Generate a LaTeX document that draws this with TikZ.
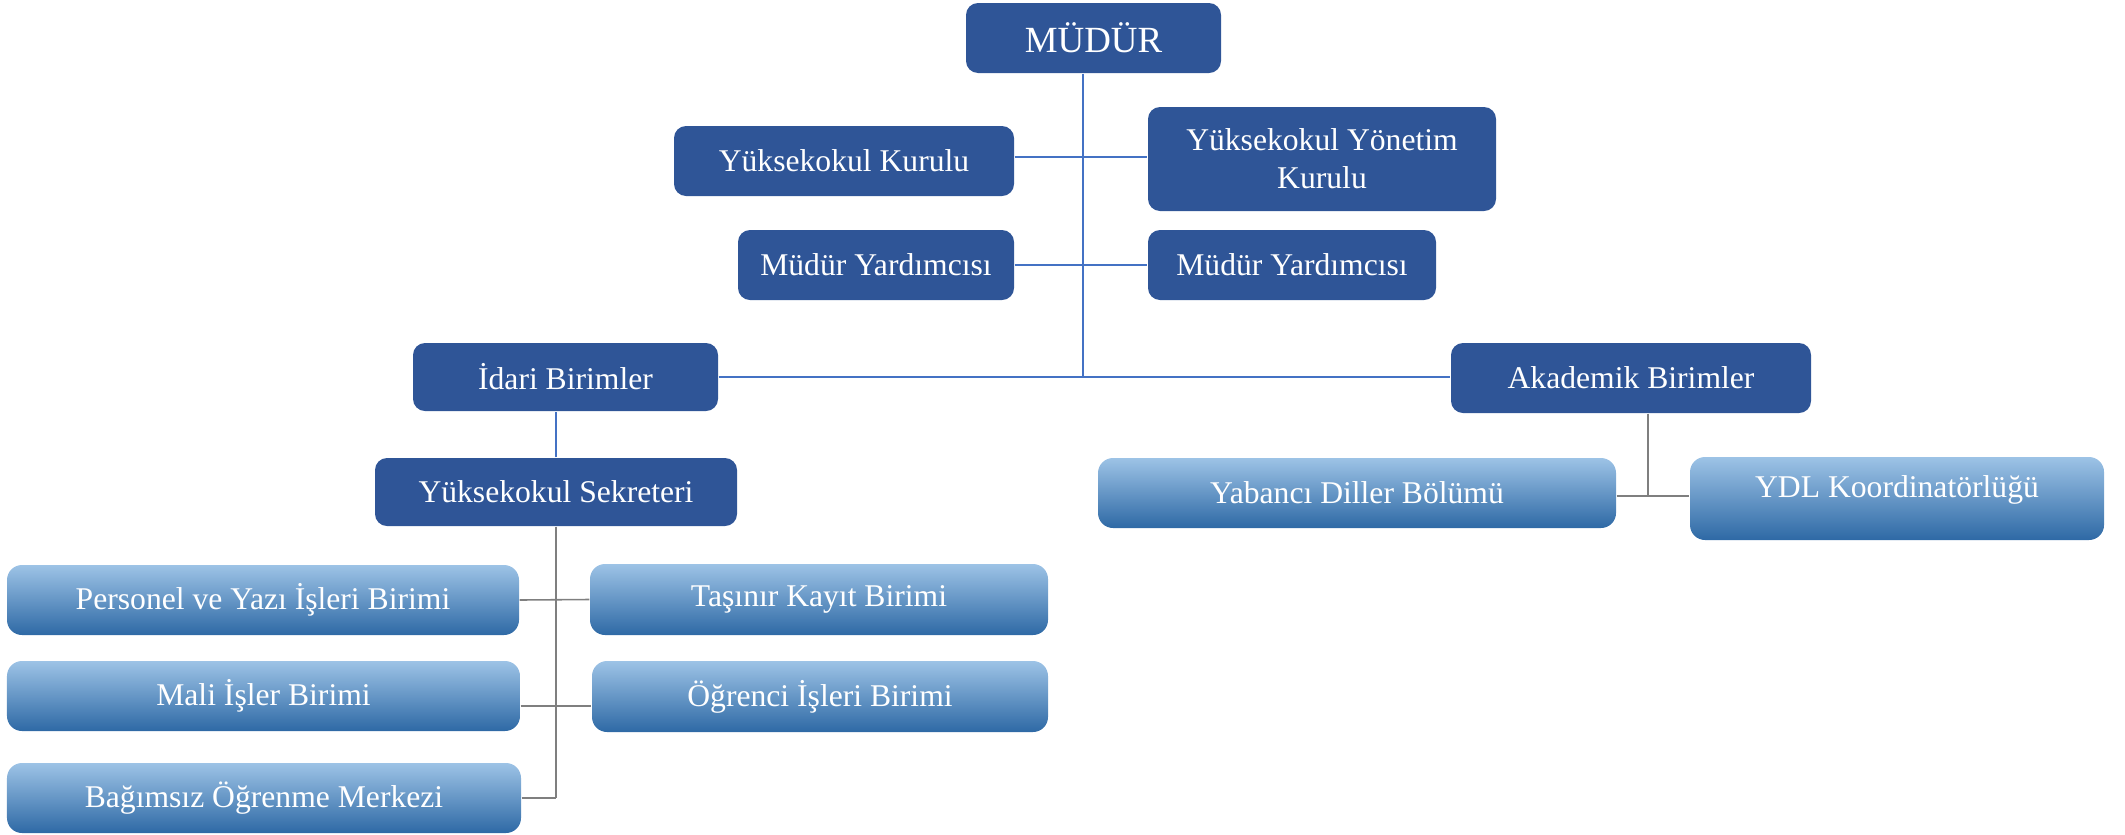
\documentclass[tikz,border=0pt]{standalone}
\usepackage{fontspec}
\setmainfont{Liberation Serif}
\usepackage{tikz}

\definecolor{darkfill}{HTML}{2F5597}
\definecolor{boxtop}{HTML}{9DC3E6}
\definecolor{boxmid}{HTML}{5B9BD5}
\definecolor{boxbot}{HTML}{2E69A5}
\definecolor{linkblue}{HTML}{4472C4}
\definecolor{linkgray}{HTML}{7F7F7F}

\begin{document}
\begin{tikzpicture}[
    darkbox/.style={rounded corners=0.12cm, fill=darkfill, text=white, inner sep=0pt,
        font=\fontsize{9}{10.8}\selectfont, align=center},
    lightbox/.style={rounded corners=0.15cm, top color=boxtop, middle color=boxmid,
        bottom color=boxbot, text=white, inner sep=0pt,
        font=\fontsize{9}{10.8}\selectfont, align=center},
    upline/.style={draw=linkblue, line width=0.45pt},
    downline/.style={draw=linkgray, line width=0.45pt}]
\useasboundingbox (0,0) rectangle (21.25,-8.34);

% Management
\node[darkbox, minimum width=2.55cm, minimum height=0.70cm, font=\fontsize{10.5}{12}\selectfont]
    (mudur) at (10.935,-0.38) {MÜDÜR};
\node[darkbox, minimum width=3.40cm, minimum height=0.70cm] (kurul) at (8.44,-1.61) {Yüksekokul Kurulu};
\node[darkbox, minimum width=3.48cm, minimum height=1.04cm] (yonetim) at (13.22,-1.59) {Yüksekokul Yönetim\\Kurulu};
\node[darkbox, minimum width=2.76cm, minimum height=0.70cm] (yard1) at (8.76,-2.65) {Müdür Yardımcısı};
\node[darkbox, minimum width=2.88cm, minimum height=0.70cm] (yard2) at (12.92,-2.65) {Müdür Yardımcısı};
\node[darkbox, minimum width=3.05cm, minimum height=0.68cm] (idari) at (5.655,-3.77) {İdari Birimler};
\node[darkbox, minimum width=3.60cm, minimum height=0.70cm] (akademik) at (16.31,-3.78) {Akademik Birimler};
\node[darkbox, minimum width=3.62cm, minimum height=0.68cm] (sekreter) at (5.56,-4.92) {Yüksekokul Sekreteri};

% Administrative units
\node[lightbox, minimum width=5.12cm, minimum height=0.70cm] (personel) at (2.63,-6.00) {Personel ve Yazı İşleri Birimi};
\node[lightbox, minimum width=4.58cm, minimum height=0.71cm] (tasinir) at (8.19,-5.995) {Taşınır Kayıt Birimi};
\node[lightbox, minimum width=5.13cm, minimum height=0.70cm] (mali) at (2.635,-6.96) {Mali İşler Birimi};
\node[lightbox, minimum width=4.56cm, minimum height=0.71cm] (ogrenci) at (8.20,-6.965) {Öğrenci İşleri Birimi};
\node[lightbox, minimum width=5.14cm, minimum height=0.70cm] (bagimsiz) at (2.64,-7.98) {Bağımsız Öğrenme Merkezi};

% Academic units
\node[lightbox, minimum width=5.18cm, minimum height=0.70cm] (yabanci) at (13.57,-4.93) {Yabancı Diller Bölümü};
\node[lightbox, minimum width=4.14cm, minimum height=0.83cm, text height=0.2cm, text depth=0.23cm]
    (ydl) at (18.97,-4.985) {YDL Koordinatörlüğü};

% Blue links
\coordinate (hub) at (10.83,-3.78);
\draw[upline] (mudur.south -| hub) -- (hub);
\draw[upline] ([yshift=0.04cm]kurul.east) -- ([yshift=0.04cm]kurul.east -| yonetim.west);
\draw[upline] (yard1) -- (yard2);
\draw[upline] (idari.east) -- (idari.east -| akademik.west);
\draw[upline] (sekreter.north) -- (sekreter.north |- idari.south);

% Gray links
\coordinate (sbot) at (sekreter.south |- bagimsiz.east);
\draw[downline] (sekreter.south) -- (sbot);
\draw[downline] (personel.east) -- (tasinir.west);
\draw[downline] ([yshift=-0.1cm]mali.east) -- ([yshift=-0.1cm]mali.east -| ogrenci.west);
\draw[downline] (bagimsiz.east) -- (sbot);
\coordinate (ajoin) at (16.48,-4.96);
\draw[downline] (akademik.south -| ajoin) -- (ajoin);
\draw[downline] (yabanci.east |- ajoin) -- (ydl.west |- ajoin);
\end{tikzpicture}
\end{document}
